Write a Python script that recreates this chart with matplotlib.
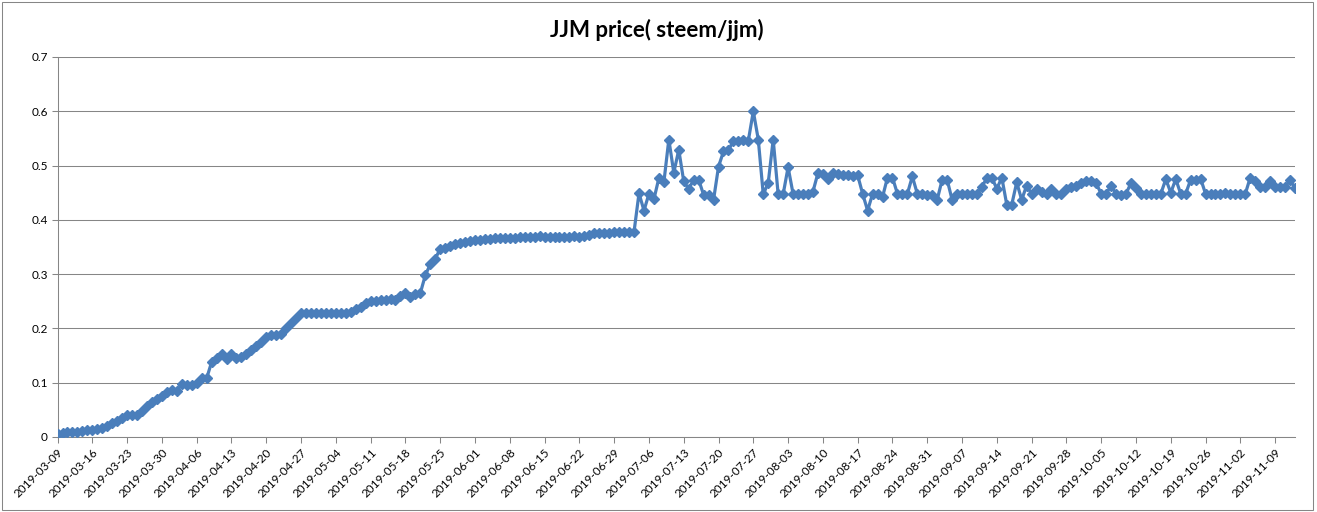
import matplotlib.pyplot as plt
from matplotlib.patches import Rectangle
import pandas as pd


START_DATE = '2019-03-09'
TITLE = 'JJM price( steem/jjm)'

# daily JJM price in steem
price = [
    0.006, 0.008, 0.009, 0.010, 0.010, 0.011, 0.012, 0.013, 0.014, 0.016,
    0.020, 0.025, 0.030, 0.035, 0.040, 0.040, 0.041, 0.048, 0.058, 0.064,
    0.070, 0.076, 0.083, 0.086, 0.085, 0.097, 0.096, 0.096, 0.100, 0.108,
    0.108, 0.138, 0.145, 0.153, 0.143, 0.153, 0.146, 0.147, 0.153, 0.160,
    0.168, 0.175, 0.184, 0.188, 0.188, 0.190, 0.200, 0.210, 0.220, 0.228,
    0.228, 0.228, 0.228, 0.229, 0.229, 0.229, 0.229, 0.229, 0.229, 0.230,
    0.235, 0.240, 0.246, 0.250, 0.250, 0.252, 0.253, 0.255, 0.252, 0.260,
    0.265, 0.258, 0.263, 0.265, 0.298, 0.318, 0.328, 0.347, 0.348, 0.352,
    0.355, 0.358, 0.360, 0.361, 0.362, 0.363, 0.364, 0.365, 0.366, 0.366,
    0.366, 0.367, 0.367, 0.368, 0.368, 0.369, 0.369, 0.370, 0.368, 0.368,
    0.368, 0.368, 0.369, 0.369, 0.370, 0.369, 0.370, 0.372, 0.375, 0.376,
    0.376, 0.376, 0.377, 0.377, 0.377, 0.378, 0.378,
    0.449, 0.417, 0.448, 0.438, 0.477, 0.469, 0.548, 0.487, 0.529, 0.471,
    0.457, 0.474, 0.474, 0.446, 0.446, 0.437, 0.498, 0.526, 0.528, 0.546,
    0.546, 0.548, 0.546, 0.600, 0.548, 0.447, 0.468, 0.548, 0.447, 0.447,
    0.497, 0.448, 0.448, 0.448, 0.448, 0.452, 0.486, 0.485, 0.476, 0.486,
    0.485, 0.482, 0.482, 0.480, 0.482, 0.448, 0.417, 0.448, 0.448, 0.442,
    0.478, 0.478, 0.448, 0.448, 0.448, 0.480, 0.448, 0.448, 0.446, 0.445,
    0.437, 0.474, 0.474, 0.437, 0.448, 0.448, 0.448, 0.448, 0.448, 0.460,
    0.478, 0.478, 0.457, 0.478, 0.428, 0.428, 0.469, 0.437, 0.463, 0.448,
    0.457, 0.451, 0.448, 0.457, 0.448, 0.448, 0.457, 0.460, 0.462, 0.467,
    0.471, 0.471, 0.467, 0.448, 0.448, 0.463, 0.448, 0.445, 0.448, 0.468,
    0.458, 0.448, 0.448, 0.448, 0.448, 0.448, 0.475, 0.450, 0.475, 0.448,
    0.448, 0.474, 0.474, 0.476, 0.448, 0.448, 0.448, 0.448, 0.450, 0.448,
    0.448, 0.448, 0.448, 0.478, 0.472, 0.460, 0.460, 0.472, 0.460, 0.460,
    0.460, 0.474, 0.458,
]

y_ticks = [0, 0.1, 0.2, 0.3, 0.4, 0.5, 0.6, 0.7]
y_tick_labels = ['0', '0.1', '0.2', '0.3', '0.4', '0.5', '0.6', '0.7']

LINE_COLOR = '#4a7ebb'
GRID_COLOR = '#868686'


def main() -> None:
    plt.rcParams['font.family'] = ['Lato', 'DejaVu Sans']

    dates = pd.date_range(START_DATE, periods=len(price), freq='D')
    idx = list(range(len(price)))

    fig = plt.figure(figsize=(13.17, 5.12), dpi=100)
    ax = fig.add_axes([0.0437, 0.1465, 0.9396, 0.7422])

    ax.plot(idx, price, color=LINE_COLOR, linewidth=2.3, marker='D',
            markersize=5, markerfacecolor=LINE_COLOR, markeredgecolor=LINE_COLOR,
            zorder=3)

    ax.set_xlim(0, len(price) - 1)
    ax.set_ylim(0, 0.7)
    ax.set_yticks(y_ticks)
    ax.set_yticklabels(y_tick_labels, fontsize=8.5)

    tick_pos = idx[::7]
    ax.set_xticks(tick_pos)
    ax.set_xticklabels([dates[i].strftime('%Y-%m-%d') for i in tick_pos],
                       rotation=45, ha='right', va='top', rotation_mode='anchor',
                       fontsize=8.5)

    ax.grid(axis='y', color=GRID_COLOR, linewidth=0.75)
    ax.set_axisbelow(True)
    for side in ['top', 'right']:
        ax.spines[side].set_visible(False)
    for side in ['left', 'bottom']:
        ax.spines[side].set_color(GRID_COLOR)
        ax.spines[side].set_linewidth(0.75)
    ax.tick_params(axis='x', length=4, color=GRID_COLOR, width=0.75, pad=3)
    ax.tick_params(axis='y', length=4, color=GRID_COLOR, width=0.75, pad=3)

    fig.text(0.499, 0.941, TITLE, ha='center', va='center', fontsize=16,
             fontweight='bold')

    fig.patches.append(Rectangle((0.0015, 0.004), 0.9955, 0.992,
                                 transform=fig.transFigure, fill=False,
                                 edgecolor=GRID_COLOR, linewidth=0.75))

    fig.savefig('out.png', dpi=100)


if __name__ == '__main__':
    main()
